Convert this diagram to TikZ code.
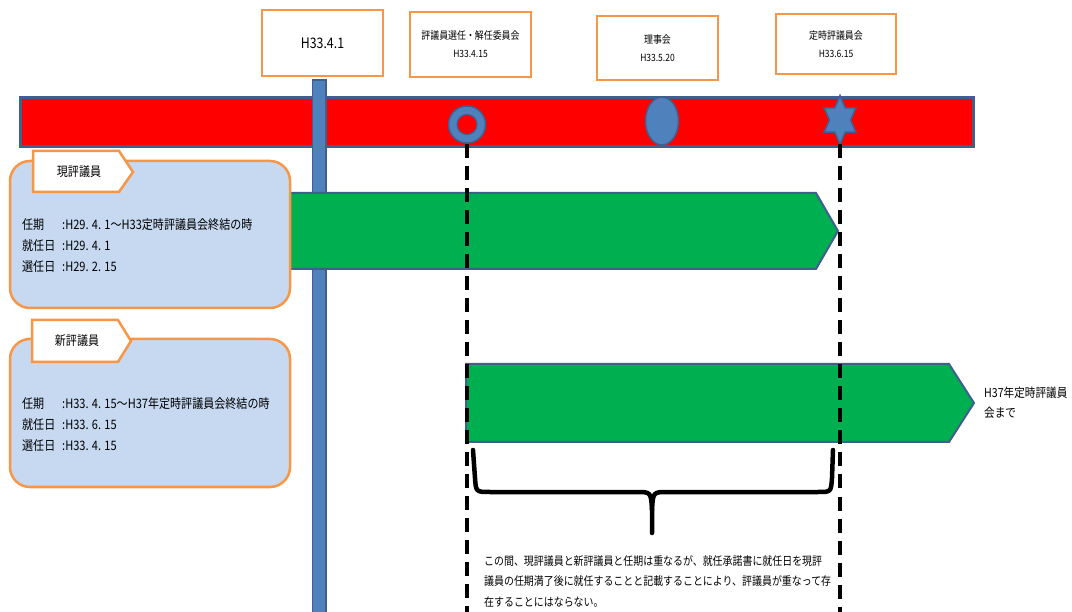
\documentclass[tikz,border=0pt]{standalone}
\usepackage{fontspec}
\setmainfont{Noto Sans CJK JP}[FakeStretch=0.85]
\usetikzlibrary{shapes.geometric}

\definecolor{barred}{HTML}{FF0000}
\definecolor{edgeblue}{HTML}{3F5F8F}
\definecolor{markblue}{HTML}{4F81BD}
\definecolor{termgreen}{HTML}{00B050}
\definecolor{infoblue}{HTML}{C6D9F1}
\definecolor{lineorange}{HTML}{F79646}

\newcommand{\termlabel}[1]{\makebox[40pt][l]{#1}}

\begin{document}
\begin{tikzpicture}[x=1pt, y=-1pt,
    datebox/.style={draw=lineorange, line width=2.5pt, fill=white, inner sep=0pt,
      align=center, font=\fontsize{10.5}{18}\selectfont},
    infobox/.style={draw=lineorange, line width=2.5pt, fill=infoblue, rounded corners=20pt},
    tabbox/.style={draw=lineorange, line width=2.5pt, fill=white},
    termbar/.style={draw=edgeblue, line width=2pt, fill=termgreen},
    marker/.style={draw=edgeblue, line width=1.5pt, fill=markblue, inner sep=0pt},
    dashline/.style={line width=3.5pt, dash pattern=on 14pt off 8pt},
    bodytext/.style={inner sep=0pt, align=left, font=\fontsize{13}{21}\selectfont}]
  \useasboundingbox (0,0) rectangle (1072,612);

  % 年表の帯
  \draw[draw=edgeblue, line width=3pt, fill=barred] (20,98) rectangle (973,147);
  % H33.4.1 の縦棒
  \draw[marker] (312.5,80) rectangle (326,620);

  % 日付の箱
  \node[datebox, minimum width=121pt, minimum height=66pt,
    font=\fontsize{14.5}{18}\selectfont] (d0401) at (322.5,43) {H33.4.1};
  \node[datebox, minimum width=121pt, minimum height=65pt] (d0415) at (470.5,44.5)
    {評議員選任・解任委員会\\{\fontsize{10}{18}\selectfont H33.4.15}};
  \node[datebox, minimum width=121pt, minimum height=64pt] (d0520) at (657.5,48)
    {理事会\\{\fontsize{10}{18}\selectfont H33.5.20}};
  \node[datebox, minimum width=120pt, minimum height=60pt] (d0615) at (836,44)
    {定時評議員会\\{\fontsize{10}{18}\selectfont H33.6.15}};

  % 帯の上の印
  \node[marker, circle, minimum size=37pt] (ring) at (467,124.5) {};
  \node[marker, circle, fill=barred, line width=1.2pt, minimum size=20pt] (hole) at (ring) {};
  \node[marker, ellipse, minimum width=33pt, minimum height=48pt] (rijikai) at (662,121) {};
  \coordinate (star) at (840,120);
  \draw[marker, shift={(star)}, xscale=0.75] (90:24.5)
    \foreach \a in {30,-30,-90,-150,150} { -- (\a+30:14.1) -- (\a:24.5) } -- (120:14.1) -- cycle;
  \coordinate (starfoot) at (840,144.5);

  % 任期の矢印
  \draw[termbar] (280,193) -- (816,193) -- (838,231) coordinate (tip1)
    -- (816,269) -- (280,269) -- cycle;
  \draw[termbar] (466,364) -- (949,364) -- (974,403) coordinate (tip2)
    -- (949,442) -- (466,442) -- cycle;
  \node[bodytext, font=\fontsize{12.5}{20}\selectfont, anchor=west] (until)
    at ([xshift=10pt]tip2) {H37年定時評議員\\会まで};

  % 現評議員
  \draw[infobox] (10,161) rectangle (290,308);
  \draw[tabbox] (33,151) -- (119,151) -- (133,172) -- (119,192) -- (33,192) -- cycle;
  \node[bodytext] (genlabel) at (79,172) {現評議員};
  \node[bodytext, anchor=west] (genterm) at (22,246)
    {\termlabel{任期}:H29. 4. 1～H33定時評議員会終結の時\\
     \termlabel{就任日}:H29. 4. 1\\
     \termlabel{選任日}:H29. 2. 15};

  % 新評議員
  \draw[infobox] (10,339) rectangle (290,487);
  \draw[tabbox] (32,320) -- (118,320) -- (131,341) -- (118,362) -- (32,362) -- cycle;
  \node[bodytext] (newlabel) at (77,341) {新評議員};
  \node[bodytext, anchor=west] (newterm) at (22,425)
    {\termlabel{任期}:H33. 4. 15～H37年定時評議員会終結の時\\
     \termlabel{就任日}:H33. 6. 15\\
     \termlabel{選任日}:H33. 4. 15};

  % 破線
  \coordinate (bottom) at (0,616);
  \draw[dashline] (ring.south) -- (ring.south |- bottom);
  \draw[dashline] (starfoot) -- (starfoot |- bottom);

  % 重なる期間
  \draw[line width=4.5pt, line cap=round, line join=round]
    (473,450) -- (475,478) .. controls (476,492) .. (490,492) -- (636,492)
    .. controls (651,492) .. (652,510) -- (652,533);
  \draw[line width=4.5pt, line cap=round, line join=round]
    (652,510) .. controls (653,492) .. (668,492) -- (818,492)
    .. controls (831,492) .. (832,478) -- (833,450);
  \node[bodytext, anchor=north west, font=\fontsize{11.7}{20.7}\selectfont] (note) at (484,555)
    {この間、現評議員と新評議員と任期は重なるが、就任承諾書に就任日を現評\\
     議員の任期満了後に就任することと記載することにより、評議員が重なって存\\
     在することにはならない。};
\end{tikzpicture}
\end{document}
